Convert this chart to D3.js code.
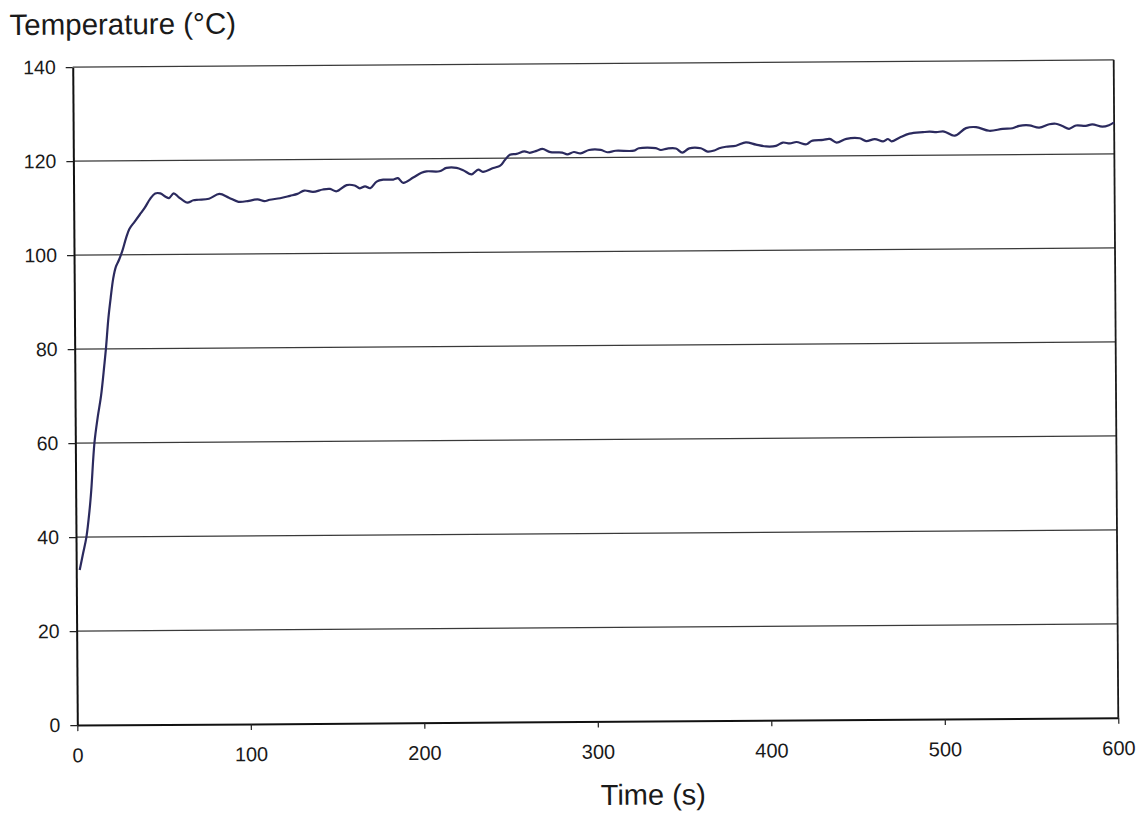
<!DOCTYPE html>
<html>
<head>
<meta charset="utf-8">
<script src="https://cdn.jsdelivr.net/npm/d3@7/dist/d3.min.js"></script>
<style>
  html, body { margin: 0; padding: 0; background: #fff; }
  svg { display: block; font-family: "Liberation Sans", Arial, sans-serif; }
</style>
</head>
<body>
<svg id="chart" width="1143" height="814"></svg>
<script>
// Heating curve: temperature against time
const times = [2, 4, 6, 8, 9, 11, 13, 15, 17, 18, 19.6, 21, 22.5, 24, 26, 28, 30, 32, 35, 38,
  41, 44, 47, 50, 53, 55, 57.7, 60.5, 63, 65.5, 69, 72, 78, 84, 89.5, 95, 101, 106, 110, 113,
  119, 124.7, 129, 133, 138, 143.7, 147.8, 151.6, 157.4, 162, 165, 168, 171, 174.7, 178.5, 184.3,
  187, 190, 195.8, 200.6, 203.5, 211, 215, 220.8, 224.6, 229.5, 233.3, 236, 242, 246, 248.7,
  251.6, 255.5, 260, 263, 267, 270.4, 275, 281.8, 284.7, 288.5, 292.4, 297.2, 304, 307.8, 312.6,
  323.2, 326, 335.7, 338.6, 342.4, 347.3, 351, 355, 361.7, 365.6, 369.4, 372.3, 376.2, 382,
  387.7, 393.5, 399.3, 405, 409, 413, 416.8, 422.6, 425.5, 432.2, 436, 440, 445.6, 453.3, 457,
  462, 466.8, 469.6, 471.6, 476.4, 482, 489.8, 493.6, 497.5, 502, 508, 514.6, 520.4, 528, 535.7,
  541.4, 545.3, 551, 556.8, 562.6, 566.4, 570.2, 574, 578, 583.6, 587.4, 593.2, 597, 600];
const temps = [33, 36.5, 40, 46, 50, 60, 65.5, 70, 76.5, 80, 86.7, 91, 95, 97.4, 99, 101, 103.5, 105.5, 107, 108.5,
  110, 111.8, 113, 113, 112.3, 112, 113, 112.2, 111.5, 111, 111.5, 111.6, 111.8, 112.8, 112, 111.1, 111.3, 111.6, 111.2, 111.5,
  111.8, 112.3, 112.7, 113.4, 113.1, 113.6, 113.7, 113.2, 114.5, 114.4, 113.8, 114.2, 113.8, 115.2, 115.6, 115.6,
  115.9, 114.9, 116, 117, 117.3, 117.3, 118, 118, 117.5, 116.6, 117.6, 117.1, 117.9, 118.4, 119.6,
  120.7, 120.9, 121.4, 121.1, 121.5, 121.9, 121.2, 121.1, 120.7, 121.2, 120.9, 121.6, 121.6, 121.1, 121.4,
  121.4, 121.9, 121.9, 121.5, 121.8, 121.8, 120.9, 121.8, 121.8, 121.1, 121.3, 121.8, 122.1, 122.3,
  123, 122.5, 122.1, 122.2, 122.9, 122.7, 123, 122.5, 123.2, 123.4, 123.6, 122.8, 123.6, 123.7, 123.1,
  123.5, 123, 123.5, 123, 123.8, 124.6, 124.9, 125, 124.9, 125, 124.1, 125.7, 125.9, 125.1, 125.5,
  125.6, 126.1, 126.2, 125.7, 126.4, 126.5, 126, 125.4, 126.1, 126, 126.3, 125.8, 126.1, 126.7];

const xTicks = [0, 100, 200, 300, 400, 500, 600];
const yTicks = [0, 20, 40, 60, 80, 100, 120, 140];
const xTitle = "Time (s)";
const yTitle = "Temperature (°C)";

const svg = d3.select("#chart");
const plotLeft = 75, plotRight = 1116, plotTop = 63.5, plotBottom = 721.5;

// the sheet sits very slightly tilted
const g = svg.append("g").attr("transform", "rotate(-0.4, 595.5, 392.5)");

const x = d3.scaleLinear().domain([0, 600]).range([plotLeft, plotRight]);
const y = d3.scaleLinear().domain([0, 140]).range([plotBottom, plotTop]);

// horizontal gridlines
g.append("g")
  .selectAll("line")
  .data(yTicks.filter(v => v > 0))
  .join("line")
  .attr("x1", plotLeft).attr("x2", plotRight)
  .attr("y1", d => y(d)).attr("y2", d => y(d))
  .attr("stroke", "#3a3a3a")
  .attr("stroke-width", 1.3);

// right border of the plot area
g.append("line")
  .attr("x1", plotRight).attr("x2", plotRight)
  .attr("y1", plotTop).attr("y2", plotBottom)
  .attr("stroke", "#1a1a1a")
  .attr("stroke-width", 1.8);

// y axis
const yAxis = g.append("g")
  .attr("transform", `translate(${plotLeft},0)`)
  .call(d3.axisLeft(y).tickValues(yTicks).tickSize(7).tickPadding(10).tickSizeOuter(0));
yAxis.select(".domain").attr("stroke", "#111").attr("stroke-width", 2);
yAxis.selectAll(".tick line").attr("stroke", "#222").attr("stroke-width", 1.2);
yAxis.selectAll(".tick text").attr("font-size", 19.5).attr("fill", "#1a1a1a")
  .attr("font-family", "Liberation Sans, Arial, sans-serif");

// x axis
const xAxis = g.append("g")
  .attr("transform", `translate(0,${plotBottom})`)
  .call(d3.axisBottom(x).tickValues(xTicks).tickSize(6).tickPadding(17).tickSizeOuter(0));
xAxis.select(".domain").attr("stroke", "#111").attr("stroke-width", 2);
xAxis.selectAll(".tick line").attr("stroke", "#222").attr("stroke-width", 1.2);
xAxis.selectAll(".tick text").attr("font-size", 20).attr("fill", "#1a1a1a")
  .attr("font-family", "Liberation Sans, Arial, sans-serif");

// temperature curve
const points = times.map((t, i) => [t, temps[i]]);
g.append("path")
  .datum(points)
  .attr("fill", "none")
  .attr("stroke", "#2b2a5e")
  .attr("stroke-width", 2.2)
  .attr("stroke-linejoin", "round")
  .attr("d", d3.line().x(d => x(d[0])).y(d => y(d[1])).curve(d3.curveCatmullRom.alpha(0.5)));

// axis titles
g.append("text")
  .attr("x", 12).attr("y", 31)
  .attr("font-size", 29.5).attr("fill", "#1a1a1a")
  .text(yTitle);

g.append("text")
  .attr("x", 650.5).attr("y", 805)
  .attr("text-anchor", "middle")
  .attr("font-size", 29).attr("fill", "#1a1a1a")
  .text(xTitle);
</script>
</body>
</html>
